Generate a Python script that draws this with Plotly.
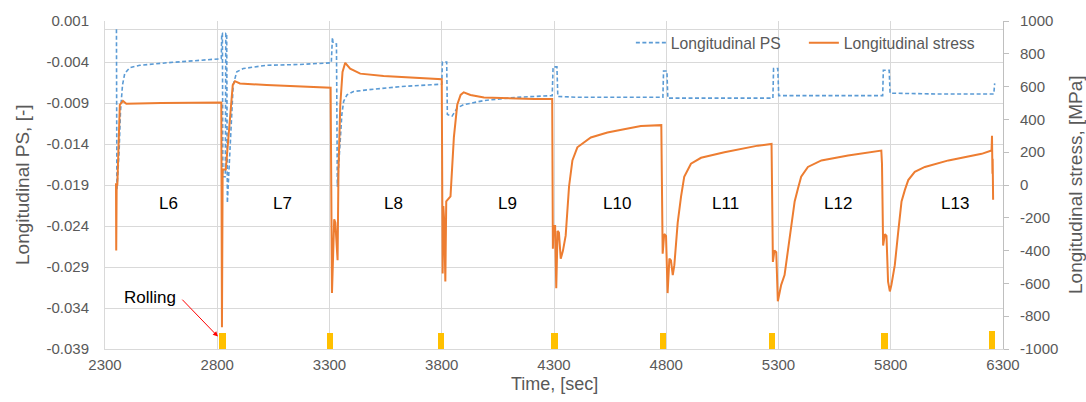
import plotly.graph_objects as go

# Longitudinal plastic strain (left axis), time in seconds
ps_time = [2351, 2353, 2363, 2369, 2378, 2388, 2410, 2455, 2574, 2723, 2818,
           2820, 2823, 2825, 2836, 2838, 2842, 2845, 2857, 2864, 2871, 2887, 2916, 3020, 3169, 3308,
           3311, 3313, 3316, 3331, 3335, 3345, 3355, 3363, 3378, 3407, 3467, 3616, 3800,
           3803, 3822, 3825, 3846, 3869, 3898, 3988, 4137, 4292,
           4296, 4313, 4317, 4400, 4785,
           4788, 4803, 4807, 5275,
           5278, 5297, 5301, 5764,
           5767, 5793, 5797, 6000, 6259, 6263]
ps_value = [0.0000, -0.0196, -0.0148, -0.0100, -0.0068, -0.0054, -0.0047, -0.0044, -0.0041, -0.0038, -0.0036,
            -0.0005, -0.0005, -0.0180, -0.0180, -0.0005, -0.0005, -0.0212, -0.0144, -0.0092, -0.0068, -0.0052, -0.0048, -0.0044, -0.0043, -0.0041,
            -0.0010, -0.0010, -0.0017, -0.0018, -0.0192, -0.0144, -0.0104, -0.0088, -0.0080, -0.0076, -0.0074, -0.0070, -0.0067,
            -0.0040, -0.0040, -0.0104, -0.0106, -0.0096, -0.0092, -0.0087, -0.0083, -0.0081,
            -0.0046, -0.0046, -0.0082, -0.0083, -0.0083,
            -0.0051, -0.0051, -0.0084, -0.0084,
            -0.0048, -0.0048, -0.0081, -0.0081,
            -0.0050, -0.0050, -0.0078, -0.0079, -0.0079, -0.0066]

# Longitudinal stress (right axis), MPa
stress_time = [2349, 2350, 2352, 2355, 2366, 2380, 2395, 2550, 2818,
               2821, 2824, 2838, 2849, 2860, 2869, 2879, 2901, 3020, 3305,
               3311, 3321, 3326, 3336, 3340, 3348, 3358, 3370, 3392, 3437, 3541, 3800,
               3804, 3807, 3811, 3816, 3820, 3831, 3839, 3854, 3869, 3884, 3898, 3928, 3988, 4211, 4292,
               4295, 4298, 4305, 4310, 4316, 4322, 4330, 4340, 4352, 4367, 4382, 4404, 4464, 4538, 4612, 4687, 4778,
               4784, 4791, 4799, 4806, 4814, 4821, 4829, 4836, 4843, 4851, 4866, 4880, 4910, 4955, 5059, 5208, 5269,
               5275, 5282, 5290, 5297, 5312, 5327, 5342, 5357, 5372, 5387, 5401, 5431, 5491, 5610, 5758, 5761,
               5766, 5774, 5781, 5788, 5796, 5803, 5811, 5818, 5833, 5848, 5863, 5878, 5907, 5952, 6057, 6205, 6249,
               6251, 6253, 6254, 6256]
stress_value = [10, -400, -5, 0, 489, 513, 496, 500, 503,
                -868, 94, 94, 290, 489, 609, 633, 619, 609, 593,
                -659, -209, -230, -459, 90, 489, 689, 745, 709, 679, 665, 645,
                -539, -129, -220, -589, -100, -80, -69, 290, 489, 549, 565, 549, 533, 525, 525,
                -389, -250, -250, -629, -280, -290, -450, -400, -309, -9, 150, 230, 290, 320, 340, 359, 365,
                -419, -299, -310, -659, -449, -460, -549, -489, -369, -229, -69, 50, 130, 166, 200, 240, 250,
                -469, -399, -410, -709, -609, -549, -389, -229, -100, -20, 50, 110, 150, 180, 210, 130,
                -369, -299, -310, -589, -649, -609, -549, -489, -289, -100, -30, 30, 80, 110, 150, 190, 210,
                300, 69, 160, -90]

# Rolling passes: centre time and marker height (MPa above the axis floor)
rolling_time = [2823, 3302, 3797, 4302, 4786, 5271, 5772, 6251]
rolling_height = [100, 100, 100, 100, 100, 100, 100, 110]

# Layer labels
cycle_names = ["L6", "L7", "L8", "L9", "L10", "L11", "L12", "L13"]
cycle_time = [2584, 3089, 3584, 4093, 4580, 5066, 5566, 6084]

# Axis ticks
x_ticks = [2300, 2800, 3300, 3800, 4300, 4800, 5300, 5800, 6300]
ps_ticks = [0.001, -0.004, -0.009, -0.014, -0.019, -0.024, -0.029, -0.034, -0.039]
ps_tick_text = ["0.001", "-0.004", "-0.009", "-0.014", "-0.019", "-0.024", "-0.029", "-0.034", "-0.039"]
stress_ticks = [1000, 800, 600, 400, 200, 0, -200, -400, -600, -800, -1000]
stress_tick_text = ["1000", "800", "600", "400", "200", "0", "-200", "-400", "-600", "-800", "-1000"]

FONT = "Liberation Sans, Arial, sans-serif"
GREY = "#595959"
GRID = "#D9D9D9"

# plot area in pixels
L, R, T, B = 105, 83, 15, 53
PW, PH = 1086 - L - R, 402 - T - B

fig = go.Figure()
fig.add_trace(go.Scatter(
    x=ps_time, y=ps_value, name="Longitudinal PS", mode="lines",
    line=dict(color="#5B9BD5", width=1.6, dash="4px,2.5px"), yaxis="y"))
fig.add_trace(go.Scatter(
    x=stress_time, y=stress_value, name="Longitudinal stress", mode="lines",
    line=dict(color="#ED7D31", width=2), yaxis="y2"))
fig.add_trace(go.Bar(
    x=rolling_time, y=rolling_height, base=-1000, width=28,
    marker=dict(color="#FFC000", line=dict(width=0)), yaxis="y2", showlegend=False))

annotations = []
for name, t in zip(cycle_names, cycle_time):
    annotations.append(dict(x=t, y=-115, xref="x", yref="y2", text=name, showarrow=False,
                            xanchor="center", yanchor="middle",
                            font=dict(family=FONT, size=17, color="#000000")))

# "Rolling" label with pointer to the first rolling marker
annotations.append(dict(x=2500, y=-684, xref="x", yref="y2", text="Rolling", showarrow=False,
                        xanchor="center", yanchor="middle",
                        font=dict(family=FONT, size=17, color="#000000")))
annotations.append(dict(x=2803, y=-924, xref="x", yref="y2", ax=2638, ay=-690, axref="x", ayref="y2",
                        text="", showarrow=True, arrowhead=2, arrowsize=1, arrowwidth=1,
                        arrowcolor="#FF0000"))

# Axis titles
annotations.append(dict(x=(22 - L) / PW, y=0.5, xref="paper", yref="paper", text="Longitudinal PS, [-]",
                        showarrow=False, textangle=-90, xanchor="center", yanchor="middle",
                        font=dict(family=FONT, size=19, color=GREY)))
annotations.append(dict(x=(1075 - L) / PW, y=0.5, xref="paper", yref="paper",
                        text="Longitudinal stress, [MPa]", showarrow=False, textangle=-90,
                        xanchor="center", yanchor="middle",
                        font=dict(family=FONT, size=19, color=GREY)))
annotations.append(dict(x=0.5, y=-(385 - (T + PH)) / PH, xref="paper", yref="paper", text="Time, [sec]",
                        showarrow=False, xanchor="center", yanchor="middle",
                        font=dict(family=FONT, size=18, color=GREY)))

fig.update_layout(
    width=1086, height=402,
    margin=dict(l=L, r=R, t=T, b=B),
    paper_bgcolor="white", plot_bgcolor="white",
    font=dict(family=FONT, color=GREY),
    showlegend=True,
    legend=dict(orientation="h", x=0.5856, y=0.985, xanchor="left", yanchor="top",
                entrywidth=128, entrywidthmode="pixels",
                bgcolor="rgba(0,0,0,0)", font=dict(family=FONT, size=15.7, color=GREY)),
    xaxis=dict(range=[2300, 6300], tickvals=x_ticks, showgrid=True, gridcolor=GRID, gridwidth=1,
               zeroline=False, showline=True, linecolor=GRID, ticks="",
               tickfont=dict(family=FONT, size=15, color=GREY), ticklabelstandoff=2),
    yaxis=dict(range=[-0.039, 0.001], tickvals=ps_ticks, ticktext=ps_tick_text,
               showgrid=True, gridcolor=GRID, gridwidth=1,
               zeroline=True, zerolinecolor=GRID, zerolinewidth=1,
               showline=True, linecolor=GRID, ticks="",
               tickfont=dict(family=FONT, size=15, color=GREY), ticklabelstandoff=12),
    yaxis2=dict(range=[-1000, 1000], tickvals=stress_ticks, ticktext=stress_tick_text,
                overlaying="y", side="right", showgrid=False, zeroline=False,
                showline=True, linecolor="#BFBFBF", ticks="outside", ticklen=5, tickcolor="#BFBFBF",
                tickfont=dict(family=FONT, size=15, color=GREY), ticklabelstandoff=8),
    bargap=0,
    annotations=annotations,
)

fig.write_html("out.html")
